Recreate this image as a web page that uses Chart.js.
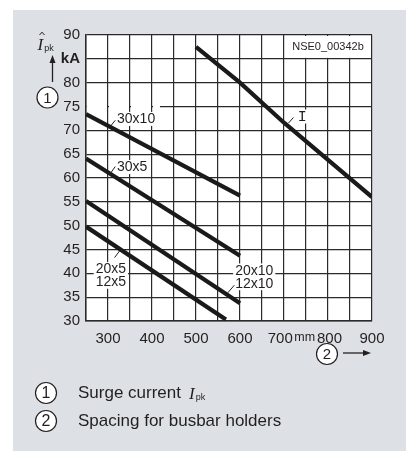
<!DOCTYPE html>
<html>
<head>
<meta charset="utf-8">
<script src="https://cdn.jsdelivr.net/npm/chart.js@4.4.1/dist/chart.umd.min.js"></script>
<style>
  html, body { margin: 0; padding: 0; background: #fff; }
  canvas { display: block; }
</style>
</head>
<body>
<canvas id="surgeChart" width="406" height="451"></canvas>
<script>
// permissible surge current (kA) against spacing of busbar holders (mm)
var spacingI = [500, 600, 700, 800, 900];
var surgeI = [87.5, 80, 71.6, 63.8, 56];
var spacing30x10 = [250, 600];
var surge30x10 = [73.4, 56.3];
var spacing30x5 = [250, 600];
var surge30x5 = [64.1, 43.7];
var spacing20x10 = [250, 600];
var surge20x10 = [55.2, 33.7];
var spacing20x5 = [250, 568];
var surge20x5 = [49.8, 30.3];

var spacingLabels = [300, 400, 500, 600, 700, 800, 900];
var spacingUnit = 'mm';
var currentUnit = 'kA';
var legendTexts = ['Surge current', 'Spacing for busbar holders'];
var drawingNo = 'NSE0_00342b';

var INK = '#231f20';
var SANS = '"Liberation Sans", Arial, sans-serif';
var SERIF = '"Liberation Serif", "Times New Roman", serif';

// curve captions, placed in axis units
var seriesNotes = [
  { lines: ['30x10'], at: [320.5, 72.4], lead: [[305, 70.8], [316.5, 72.1]] },
  { lines: ['30x5'], at: [320.5, 62.3], lead: [[305, 60.9], [316.5, 62.4]] },
  { lines: ['20x5', '12x5'], at: [272, 40.9], lead: [[315, 43.3], [327, 44.8]] },
  { lines: ['20x10', '12x10'], at: [589, 40.6], lead: [[572, 35.9], [587, 37.5]] },
  { lines: ['I'], at: [731, 72.9], lead: [[710, 71.5], [721.5, 72.7]], mono: true }
];

function pairs(xs, ys) {
  return xs.map(function (x, i) { return { x: x, y: ys[i] }; });
}

function curve(xs, ys) {
  return {
    data: pairs(xs, ys),
    showLine: true,
    borderColor: '#1a1a1a',
    borderWidth: 4.2,
    borderCapStyle: 'butt',
    pointRadius: 0,
    tension: 0
  };
}

function circled(ctx, cx, cy, r, txt, size) {
  ctx.beginPath();
  ctx.arc(cx, cy, r, 0, Math.PI * 2);
  ctx.fillStyle = '#fff';
  ctx.fill();
  ctx.lineWidth = 1.2;
  ctx.strokeStyle = INK;
  ctx.stroke();
  ctx.fillStyle = INK;
  ctx.font = (size || 15) + 'px ' + SANS;
  ctx.textAlign = 'center';
  ctx.textBaseline = 'middle';
  ctx.fillText(txt, cx, cy + 1);
}

function arrow(ctx, x1, y1, x2, y2) {
  var a = Math.atan2(y2 - y1, x2 - x1);
  ctx.strokeStyle = INK;
  ctx.fillStyle = INK;
  ctx.lineWidth = 1.3;
  ctx.beginPath();
  ctx.moveTo(x1, y1);
  ctx.lineTo(x2 - 6 * Math.cos(a), y2 - 6 * Math.sin(a));
  ctx.stroke();
  ctx.beginPath();
  ctx.moveTo(x2, y2);
  ctx.lineTo(x2 - 8 * Math.cos(a) + 3 * Math.sin(a), y2 - 8 * Math.sin(a) - 3 * Math.cos(a));
  ctx.lineTo(x2 - 8 * Math.cos(a) - 3 * Math.sin(a), y2 - 8 * Math.sin(a) + 3 * Math.cos(a));
  ctx.closePath();
  ctx.fill();
}

function ipk(ctx, x, base, size, hat) {
  ctx.fillStyle = INK;
  ctx.textAlign = 'left';
  ctx.textBaseline = 'alphabetic';
  ctx.font = 'italic ' + size + 'px ' + SERIF;
  ctx.fillText('I', x, base);
  var w = ctx.measureText('I').width;
  if (hat) {
    ctx.beginPath();
    ctx.lineWidth = 1;
    ctx.strokeStyle = INK;
    ctx.moveTo(x + 2, base - size * 0.88);
    ctx.lineTo(x + 4.5, base - size * 1.05);
    ctx.lineTo(x + 7, base - size * 0.88);
    ctx.stroke();
  }
  ctx.font = Math.round(size * 0.55) + 'px ' + SANS;
  ctx.fillText('pk', x + w + 1, base + 1);
}

var decorations = {
  id: 'decorations',
  beforeDraw: function (chart) {
    var ctx = chart.ctx, a = chart.chartArea;
    ctx.save();
    ctx.fillStyle = '#dde1e5';
    ctx.fillRect(13, 10, chart.width - 13, chart.height - 10);
    ctx.fillStyle = '#fff';
    ctx.fillRect(a.left, a.top, a.right - a.left, a.bottom - a.top);
    ctx.restore();
  },
  beforeDatasetsDraw: function (chart) {
    var ctx = chart.ctx, x = chart.scales.x, y = chart.scales.y;
    ctx.save();
    ctx.fillStyle = '#fff';
    // broken 75 kA grid line, cell by cell so the verticals stay
    var gy = y.getPixelForValue(75);
    for (var v = 250; v < 418; v += 50) {
      var l = x.getPixelForValue(v) + 1;
      var r = x.getPixelForValue(Math.min(v + 50, 418)) - (v + 50 <= 418 ? 1 : 0);
      ctx.fillRect(l, gy - 1.5, r - l, 3);
    }
    // drawing number box in the top row
    var bx = x.getPixelForValue(700), bx2 = x.getPixelForValue(900);
    var by = y.getPixelForValue(90), by2 = y.getPixelForValue(85);
    ctx.fillRect(bx + 1, by + 1, bx2 - bx - 2, by2 - by - 2);
    ctx.fillStyle = INK;
    ctx.font = '11px ' + SANS;
    ctx.textAlign = 'center';
    ctx.textBaseline = 'middle';
    ctx.fillText(drawingNo, (bx + bx2) / 2, (by + by2) / 2 + 0.5);
    ctx.restore();
  },
  afterDatasetsDraw: function (chart) {
    var ctx = chart.ctx, x = chart.scales.x, y = chart.scales.y;
    ctx.save();
    seriesNotes.forEach(function (n) {
      var px = x.getPixelForValue(n.at[0]);
      var py = y.getPixelForValue(n.at[1]);
      var lh = 12.7;
      ctx.font = n.mono ? '15px "Liberation Mono", monospace' : '14px ' + SANS;
      var w = 0;
      n.lines.forEach(function (t) { w = Math.max(w, ctx.measureText(t).width); });
      ctx.fillStyle = '#fff';
      ctx.fillRect(px - 2, py - 7, w + 4, lh * (n.lines.length - 1) + 14);
      ctx.fillStyle = INK;
      ctx.textAlign = 'left';
      ctx.textBaseline = 'middle';
      n.lines.forEach(function (t, i) { ctx.fillText(t, px, py + i * lh + 0.5); });
      ctx.beginPath();
      ctx.lineWidth = 1;
      ctx.strokeStyle = INK;
      ctx.moveTo(x.getPixelForValue(n.lead[0][0]), y.getPixelForValue(n.lead[0][1]));
      ctx.lineTo(x.getPixelForValue(n.lead[1][0]), y.getPixelForValue(n.lead[1][1]));
      ctx.stroke();
    });
    ctx.restore();
  },
  afterDraw: function (chart) {
    var ctx = chart.ctx;
    ctx.save();
    // y axis symbol, direction arrow and marker
    ipk(ctx, 37.5, 50, 17, true);
    arrow(ctx, 52.5, 82, 52.5, 55);
    circled(ctx, 47.5, 97.5, 10.5, '1');
    // x axis marker and arrow
    circled(ctx, 327, 354, 10.5, '2');
    arrow(ctx, 343, 353, 371, 353);
    // key
    circled(ctx, 46, 393, 10.5, '1', 16);
    circled(ctx, 46, 421, 10.5, '2', 16);
    ctx.fillStyle = INK;
    ctx.font = '17px ' + SANS;
    ctx.textAlign = 'left';
    ctx.textBaseline = 'middle';
    ctx.fillText(legendTexts[0], 78, 393);
    var w = ctx.measureText(legendTexts[0]).width;
    ctx.fillText(legendTexts[1], 78, 421);
    ipk(ctx, 78 + w + 8, 399, 17, false);
    ctx.restore();
  }
};

new Chart(document.getElementById('surgeChart'), {
  type: 'scatter',
  data: {
    datasets: [
      curve(spacingI, surgeI),
      curve(spacing30x10, surge30x10),
      curve(spacing30x5, surge30x5),
      curve(spacing20x10, surge20x10),
      curve(spacing20x5, surge20x5)
    ]
  },
  options: {
    responsive: false,
    devicePixelRatio: 1,
    animation: false,
    layout: { padding: { left: 0, top: 35, right: 34, bottom: 100 } },
    plugins: {
      legend: { display: false },
      tooltip: { enabled: false }
    },
    scales: {
      x: {
        type: 'linear',
        min: 250,
        max: 900,
        afterFit: function (s) { s.height = 30; },
        afterBuildTicks: function (s) {
          s.ticks = [];
          for (var v = 250; v <= 900; v += 50) s.ticks.push({ value: v });
        },
        grid: { color: '#2a2a2a', lineWidth: 1.2, drawTicks: false },
        border: { color: '#2a2a2a', width: 1.5 },
        ticks: {
          autoSkip: false,
          maxRotation: 0,
          padding: 9,
          color: INK,
          font: function (c) {
            return c.tick && c.tick.value === 750 ? { family: SANS, size: 12.5 } : { family: SANS, size: 15 };
          },
          callback: function (v) {
            if (v === 750) return spacingUnit + '\u2009';
            if (spacingLabels.indexOf(v) < 0) return '';
            // nudge the labels either side of the unit apart
            if (v === 700) return v + '\u2002';
            if (v === 800) return '\u2009' + v;
            return String(v);
          }
        }
      },
      y: {
        min: 30,
        max: 90,
        afterFit: function (s) { s.width = 86; },
        grid: { color: '#2a2a2a', lineWidth: 1.2, drawTicks: false },
        border: { color: '#2a2a2a', width: 1.5 },
        ticks: {
          stepSize: 5,
          padding: 6,
          color: INK,
          font: function (c) {
            return c.tick && c.tick.value === 85 ? { family: SANS, size: 15, weight: 'bold' } : { family: SANS, size: 15 };
          },
          callback: function (v) { return v === 85 ? currentUnit : String(v); }
        }
      }
    }
  },
  plugins: [decorations]
});
</script>
</body>
</html>
